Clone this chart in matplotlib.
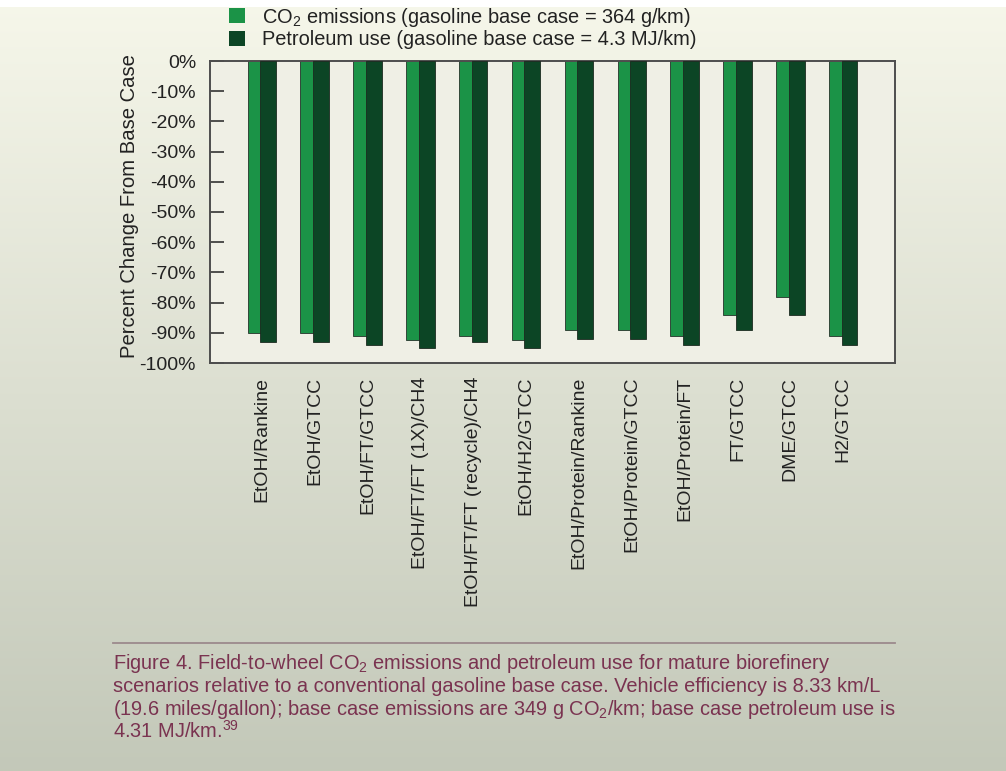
import numpy as np
import matplotlib
matplotlib.use('Agg')
import matplotlib.pyplot as plt
from matplotlib.patches import Rectangle
from matplotlib.lines import Line2D

plt.rcParams['font.family'] = ['Liberation Sans', 'DejaVu Sans']
plt.rcParams['mathtext.fontset'] = 'custom'
plt.rcParams['mathtext.rm'] = 'Liberation Sans'
plt.rcParams['mathtext.it'] = 'Liberation Sans'

# Scenarios and percent change from gasoline base case
scenarios = ['EtOH/Rankine', 'EtOH/GTCC', 'EtOH/FT/GTCC', 'EtOH/FT/FT (1X)/CH4',
             'EtOH/FT/FT (recycle)/CH4', 'EtOH/H2/GTCC', 'EtOH/Protein/Rankine',
             'EtOH/Protein/GTCC', 'EtOH/Protein/FT', 'FT/GTCC', 'DME/GTCC', 'H2/GTCC']
co2_change = [-90, -90, -91, -92.5, -91, -92.5, -89, -89, -91, -84, -78, -91]
petro_change = [-93, -93, -94, -95, -93, -95, -92, -92, -94, -89, -84, -94]
series_labels = ['CO$_2$ emissions (gasoline base case = 364 g/km)',
                 'Petroleum use (gasoline base case = 4.3 MJ/km)']

yticks = list(range(0, -101, -10))
ytick_labels = ['%d%%' % v for v in yticks]

light_green = '#1b9347'
dark_green = '#0c4525'
caption_color = '#7a3350'

fig = plt.figure(figsize=(10.06, 7.71), dpi=100)

# background gradient (cream to grey-green)
bg = fig.add_axes([0, 0, 1, 1], zorder=-10)
top = np.array([0.965, 0.968, 0.918])
bot = np.array([0.765, 0.785, 0.725])
t = np.linspace(0, 1, 771)[:, None]
grad = top + (bot - top) * t
grad[:7] = 1.0
bg.imshow(grad[:, None, :], aspect='auto', extent=[0, 1, 0, 1], transform=bg.transAxes)
bg.axis('off')

ax = fig.add_axes([210 / 1006, 1 - 363 / 771, 685 / 1006, 302 / 771])
ax.set_facecolor('#efefe5')

x = np.arange(len(scenarios))
w = 0.30
ax.bar(x - 0.12, co2_change, width=w, align='center', color=light_green,
       edgecolor='#24332a', linewidth=0.6, zorder=2, label=series_labels[0])
ax.bar(x + 0.12, petro_change, width=w, align='center', color=dark_green,
       edgecolor='#1c2a20', linewidth=0.6, zorder=3, label=series_labels[1])

ax.set_xlim(-0.98, 11.98)
ax.set_ylim(-100, 0)
ax.set_yticks(yticks)
ax.set_yticklabels(ytick_labels, fontsize=14, color='#222222')
ax.tick_params(axis='y', direction='in', length=10, width=1.2, color='#333333', pad=10)
ax.set_xticks(x)
ax.set_xticklabels(scenarios, rotation=90, fontsize=14, color='#222222', va='top')
ax.tick_params(axis='x', length=0, pad=10)
for s in ax.spines.values():
    s.set_color('#4d4d4d')
    s.set_linewidth(1.4)

ax.set_ylabel('Percent Change From Base Case', fontsize=14.6, color='#222222')
ax.yaxis.set_label_coords(-0.104, 0.52)

# legend drawn by hand to match the tight row spacing
for i, (col, lab) in enumerate(zip([light_green, dark_green], series_labels)):
    y0 = 8.3 + 22.4 * i
    fig.add_artist(Rectangle((229 / 1006, 1 - (y0 + 15) / 771), 15.7 / 1006, 15 / 771,
                             transform=fig.transFigure, facecolor=col, edgecolor='none'))
    fig.text(261.7 / 1006, 1 - (y0 + 14.4) / 771, lab, fontsize=14.4, color='#222222',
             va='baseline', ha='left')

# caption rule and text
fig.add_artist(Line2D([113 / 1006, 895 / 1006], [1 - 643 / 771, 1 - 643 / 771],
                      color='#9c8a8c', linewidth=1.3))
caption = ['Figure 4. Field-to-wheel CO$_2$ emissions and petroleum use for mature biorefinery',
           'scenarios relative to a conventional gasoline base case. Vehicle efficiency is 8.33 km/L',
           '(19.6 miles/gallon); base case emissions are 349 g CO$_2$/km; base case petroleum use is',
           '4.31 MJ/km.$^{39}$']
for i, line in enumerate(caption):
    fig.text(113 / 1006, 1 - (669 + 22.9 * i) / 771, line, fontsize=14.4,
             color=caption_color, va='baseline', ha='left')

fig.savefig('out.png', dpi=100)
